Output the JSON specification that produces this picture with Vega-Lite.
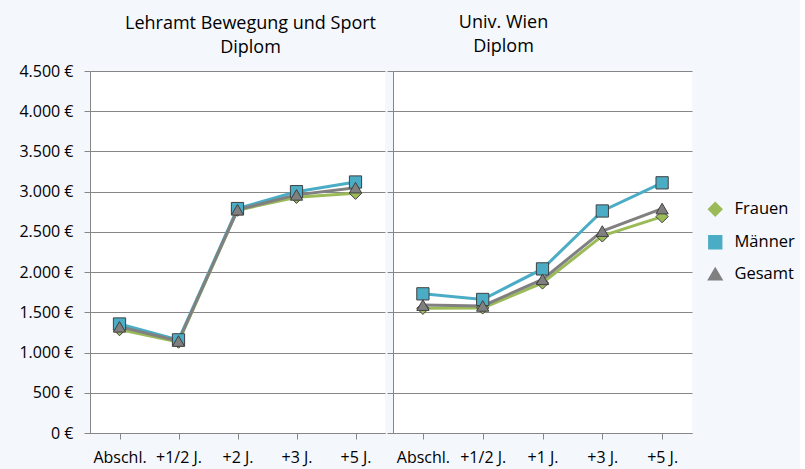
{
  "$schema": "https://vega.github.io/schema/vega-lite/v6.json",
  "background": "#F4F7FC",
  "padding": {"left": 10, "top": 13, "right": 5, "bottom": 6},
  "config": {
    "font": "Open Sans",
    "view": {"fill": "white", "stroke": null},
    "axis": {
      "domainColor": "#868686", "tickColor": "#868686", "gridColor": "#868686",
      "labelColor": "black", "labelFontSize": 16, "labelFont": "Open Sans", "title": null
    },
    "title": {"fontSize": 18, "fontWeight": "normal", "lineHeight": 24, "color": "black", "anchor": "middle", "font": "Open Sans"},
    "legend": {"labelFontSize": 16.5, "labelFont": "Open Sans", "labelColor": "black", "rowPadding": 10, "labelOffset": 11, "symbolSize": 140}
  },
  "data": {"values": [
    {"panel": "L", "cat": "Abschl.", "series": "Frauen", "value": 1285},
    {"panel": "L", "cat": "Abschl.", "series": "Männer", "value": 1355},
    {"panel": "L", "cat": "Abschl.", "series": "Gesamt", "value": 1320},
    {"panel": "L", "cat": "+1/2 J.", "series": "Frauen", "value": 1130},
    {"panel": "L", "cat": "+1/2 J.", "series": "Männer", "value": 1158},
    {"panel": "L", "cat": "+1/2 J.", "series": "Gesamt", "value": 1143},
    {"panel": "L", "cat": "+2 J.", "series": "Frauen", "value": 2770},
    {"panel": "L", "cat": "+2 J.", "series": "Männer", "value": 2790},
    {"panel": "L", "cat": "+2 J.", "series": "Gesamt", "value": 2775},
    {"panel": "L", "cat": "+3 J.", "series": "Frauen", "value": 2930},
    {"panel": "L", "cat": "+3 J.", "series": "Männer", "value": 3000},
    {"panel": "L", "cat": "+3 J.", "series": "Gesamt", "value": 2960},
    {"panel": "L", "cat": "+5 J.", "series": "Frauen", "value": 2980},
    {"panel": "L", "cat": "+5 J.", "series": "Männer", "value": 3120},
    {"panel": "L", "cat": "+5 J.", "series": "Gesamt", "value": 3050},
    {"panel": "R", "cat": "Abschl.", "series": "Frauen", "value": 1550},
    {"panel": "R", "cat": "Abschl.", "series": "Männer", "value": 1730},
    {"panel": "R", "cat": "Abschl.", "series": "Gesamt", "value": 1590},
    {"panel": "R", "cat": "+1/2 J.", "series": "Frauen", "value": 1555},
    {"panel": "R", "cat": "+1/2 J.", "series": "Männer", "value": 1660},
    {"panel": "R", "cat": "+1/2 J.", "series": "Gesamt", "value": 1580},
    {"panel": "R", "cat": "+1 J.", "series": "Frauen", "value": 1865},
    {"panel": "R", "cat": "+1 J.", "series": "Männer", "value": 2040},
    {"panel": "R", "cat": "+1 J.", "series": "Gesamt", "value": 1910},
    {"panel": "R", "cat": "+3 J.", "series": "Frauen", "value": 2450},
    {"panel": "R", "cat": "+3 J.", "series": "Männer", "value": 2760},
    {"panel": "R", "cat": "+3 J.", "series": "Gesamt", "value": 2510},
    {"panel": "R", "cat": "+5 J.", "series": "Frauen", "value": 2690},
    {"panel": "R", "cat": "+5 J.", "series": "Männer", "value": 3110},
    {"panel": "R", "cat": "+5 J.", "series": "Gesamt", "value": 2790}
  ]},
  "spacing": 1,
  "resolve": {"scale": {"x": "independent", "y": "shared", "color": "shared", "shape": "shared"}},
  "hconcat": [
    {
      "width": 295, "height": 362,
      "title": {"text": ["Lehramt Bewegung und Sport", "Diplom"], "dx": 13, "offset": 6},
      "transform": [{"filter": "datum.panel === 'L'"}],
      "encoding": {
        "x": {"field": "cat", "type": "nominal", "sort": ["Abschl.", "+1/2 J.", "+2 J.", "+3 J.", "+5 J."],
              "scale": {"paddingInner": 0, "paddingOuter": 0},
              "axis": {"labelAngle": 0, "bandPosition": 0, "tickSize": 6, "labelPadding": 10, "grid": false}},
        "y": {"field": "value", "type": "quantitative", "scale": {"domain": [0, 4500], "nice": false},
              "axis": {"values": [0, 500, 1000, 1500, 2000, 2500, 3000, 3500, 4000, 4500], "grid": true, "tickSize": 6, "labelPadding": 11, "minExtent": 80, "maxExtent": 80,
                       "labelExpr": "replace(format(datum.value, ','), ',', '.') + ' €'"}},
        "color": {"field": "series", "type": "nominal", "scale": {"domain": ["Frauen", "Männer", "Gesamt"], "range": ["#9BBB59", "#4BACC6", "#808080"]},
                  "legend": {"orient": "none", "legendX": 617, "legendY": 130, "title": null,
                             "encode": {"symbols": {"update": {
                               "shape": {"signal": "datum.value === 'Frauen' ? 'M-2.9,0H-1.1M1.1,0H2.9M0,-1.1L1.1,0L0,1.1L-1.1,0Z' : datum.value === 'Männer' ? 'M-2.9,0H-0.95M0.95,0H2.9M-0.95,-0.95H0.95V0.95H-0.95Z' : 'M-2.9,0H-1M1,0H2.9M0,-1L1.05,0.8H-1.05Z'"},
                               "stroke": {"signal": "datum.value === 'Frauen' ? '#9BBB59' : datum.value === 'Männer' ? '#4BACC6' : '#808080'"},
                               "strokeWidth": {"value": 2.5},
                               "opacity": {"value": 1}}}}}}
      },
      "layer": [
        {"mark": {"type": "line", "strokeWidth": 3}, "encoding": {"detail": {"field": "series"}}},
        {"mark": {"type": "point", "filled": true, "stroke": "#404040", "strokeWidth": 1, "size": 150, "opacity": 1},
         "encoding": {"shape": {"field": "series", "type": "nominal", "legend": null, "scale": {"domain": ["Frauen", "Männer", "Gesamt"], "range": ["diamond", "square", "triangle-up"]}}}}
      ]
    },
    {
      "width": 299, "height": 362,
      "title": {"text": ["Univ. Wien", "Diplom"], "dx": -39, "offset": 15},
      "transform": [{"filter": "datum.panel === 'R'"}],
      "encoding": {
        "x": {"field": "cat", "type": "nominal", "sort": ["Abschl.", "+1/2 J.", "+1 J.", "+3 J.", "+5 J."],
              "scale": {"paddingInner": 0, "paddingOuter": 0},
              "axis": {"labelAngle": 0, "bandPosition": 0, "tickSize": 6, "labelPadding": 10, "grid": false}},
        "y": {"field": "value", "type": "quantitative", "scale": {"domain": [0, 4500], "nice": false},
              "axis": {"values": [0, 500, 1000, 1500, 2000, 2500, 3000, 3500, 4000, 4500], "grid": true, "tickSize": 6, "labels": false, "minExtent": 0}},
        "color": {"field": "series", "type": "nominal"}
      },
      "layer": [
        {"mark": {"type": "line", "strokeWidth": 3}, "encoding": {"detail": {"field": "series"}}},
        {"mark": {"type": "point", "filled": true, "stroke": "#404040", "strokeWidth": 1, "size": 150, "opacity": 1},
         "encoding": {"shape": {"field": "series", "type": "nominal", "legend": null}}}
      ]
    }
  ]
}
